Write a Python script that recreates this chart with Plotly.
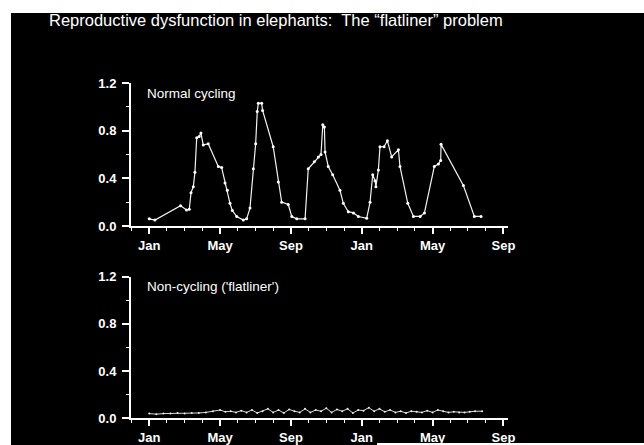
import plotly.graph_objects as go

W, H = 644, 445

# ---- data (x in months from first January) ----
cycling_months = [0.0, 0.32, 1.77, 2.1, 2.26, 2.36, 2.49, 2.58, 2.68, 2.82, 2.92, 3.05, 3.33, 3.9, 4.09,
                  4.28, 4.41, 4.56, 4.69, 4.94, 5.31, 5.5, 5.69, 5.88, 6.01, 6.1, 6.16, 6.35, 6.4, 7.0,
                  7.29, 7.48, 7.85, 8.05, 8.33, 8.8, 8.98, 9.32, 9.55, 9.7, 9.8, 9.89, 9.93, 10.11, 10.36,
                  10.77, 10.96, 11.24, 11.53, 11.81, 12.28, 12.47, 12.62, 12.75, 12.8, 12.94, 13.03, 13.26,
                  13.45, 13.69, 14.07, 14.16, 14.6, 14.92, 15.3, 15.54, 16.1, 16.33, 16.46, 16.48, 17.74,
                  18.36, 18.74]
cycling_values = [0.06, 0.05, 0.17, 0.135, 0.14, 0.28, 0.33, 0.45, 0.74, 0.75, 0.78, 0.68, 0.69, 0.50, 0.49,
                  0.36, 0.30, 0.19, 0.13, 0.08, 0.05, 0.06, 0.15, 0.48, 0.69, 0.96, 1.03, 1.03, 0.97, 0.665,
                  0.37, 0.20, 0.18, 0.08, 0.06, 0.06, 0.48, 0.54, 0.58, 0.60, 0.85, 0.83, 0.62, 0.50, 0.43,
                  0.30, 0.19, 0.12, 0.11, 0.08, 0.065, 0.20, 0.43, 0.38, 0.33, 0.47, 0.665, 0.665,
                  0.715, 0.58, 0.64, 0.50, 0.19, 0.08, 0.08, 0.11, 0.50, 0.52, 0.55, 0.685, 0.34,
                  0.08, 0.08]

flat_months = [0.0, 0.4, 0.8, 1.2, 1.6, 2.0, 2.4, 2.8, 3.2, 3.6, 4.0, 4.3, 4.6, 4.9, 5.2, 5.5, 5.8, 6.1,
               6.4, 6.7, 7.0, 7.3, 7.6, 7.9, 8.2, 8.5, 8.8, 9.1, 9.4, 9.7, 10.0, 10.3, 10.6, 10.9, 11.2,
               11.5, 11.8, 12.1, 12.4, 12.7, 13.0, 13.3, 13.6, 13.9, 14.2, 14.5, 14.8, 15.1, 15.4, 15.7,
               16.0, 16.3, 16.6, 16.9, 17.2, 17.5, 17.8, 18.1, 18.4, 18.8]
flat_values = [0.04, 0.035, 0.04, 0.04, 0.045, 0.04, 0.045, 0.045, 0.05, 0.06,
               0.07, 0.055, 0.06, 0.05, 0.065, 0.05, 0.07, 0.045, 0.06, 0.08,
               0.05, 0.07, 0.045, 0.075, 0.06, 0.05, 0.08, 0.05, 0.07, 0.06,
               0.085, 0.05, 0.075, 0.06, 0.08, 0.045, 0.07, 0.065, 0.09, 0.06,
               0.08, 0.055, 0.07, 0.05, 0.06, 0.045, 0.06, 0.055, 0.05, 0.065,
               0.05, 0.07, 0.06, 0.05, 0.055, 0.05, 0.05, 0.055, 0.06, 0.06]

tick_months = [0, 4, 8, 12, 16, 20]
tick_labels = ["Jan", "May", "Sep", "Jan", "May", "Sep"]
y_ticks = [0.0, 0.4, 0.8, 1.2]

title_text = "Reproductive dysfunction in elephants:  The \u201cflatliner\u201d problem"
panel_labels = ["Normal cycling", "Non-cycling ('flatliner')"]


def px_x(p):
    return p / W


def px_y(p):
    return 1 - p / H


fig = go.Figure()
fig.add_trace(go.Scatter(x=cycling_months, y=cycling_values, mode="lines+markers",
                         line=dict(color="#f2f2f2", width=1.2),
                         marker=dict(color="#ffffff", size=3),
                         xaxis="x", yaxis="y", showlegend=False))
fig.add_trace(go.Scatter(x=flat_months, y=flat_values, mode="lines+markers",
                         line=dict(color="#d8d8d8", width=1),
                         marker=dict(color="#eeeeee", size=2),
                         xaxis="x2", yaxis="y2", showlegend=False))

xdom = [px_x(131), px_x(508)]
xr = [-1.03, 20.26]
lab_font = dict(family="Liberation Sans, Arial", size=13, color="white", weight="bold")

xcommon = dict(range=xr, domain=xdom, showline=True, linecolor="white", linewidth=2,
               showgrid=False, zeroline=False, automargin=False, tickmode="array",
               tickvals=tick_months, ticktext=tick_labels, ticks="outside", ticklen=6,
               tickwidth=1.5, tickcolor="white", tickfont=lab_font,
               minor=dict(dtick=1, tick0=0, ticks="outside", ticklen=3, tickcolor="white", tickwidth=1),
               fixedrange=True)
ycommon = dict(range=[0, 1.2], showline=True, linecolor="white", linewidth=2, showgrid=False,
               zeroline=False, automargin=False, tickmode="array", tickvals=y_ticks, tickformat=".1f",
               ticks="outside", ticklen=7, tickwidth=1.5, tickcolor="white", tickfont=lab_font,
               ticklabelstandoff=3,
               minor=dict(dtick=0.2, tick0=0, ticks="outside", ticklen=3, tickcolor="white", tickwidth=1),
               fixedrange=True)

fig.update_layout(
    template="none",
    width=W, height=H, autosize=False,
    margin=dict(l=0, r=0, t=0, b=0, pad=0),
    paper_bgcolor="white", plot_bgcolor="black",
    xaxis=dict(anchor="y", **xcommon),
    yaxis=dict(anchor="x", domain=[px_y(226), px_y(83)], **ycommon),
    xaxis2=dict(anchor="y2", **xcommon),
    yaxis2=dict(anchor="x2", domain=[px_y(418.3), px_y(276.7)], **ycommon),
    shapes=[
        dict(type="rect", xref="paper", yref="paper", x0=px_x(11), x1=1, y0=0, y1=px_y(13),
             fillcolor="black", line=dict(width=0), layer="below"),
        dict(type="rect", xref="paper", yref="paper", x0=px_x(377), x1=1, y0=0, y1=px_y(443),
             fillcolor="white", line=dict(width=0), layer="above"),
    ],
    annotations=[
        dict(text=title_text, xref="paper", yref="paper", x=px_x(275.5), y=px_y(20),
             xanchor="center", yanchor="middle", showarrow=False,
             font=dict(family="Liberation Sans, Arial", size=16.5, color="white")),
        dict(text=panel_labels[0], xref="paper", yref="paper", x=px_x(145), y=px_y(93),
             xanchor="left", yanchor="middle", showarrow=False,
             font=dict(family="Liberation Sans, Arial", size=13.5, color="white")),
        dict(text=panel_labels[1], xref="paper", yref="paper", x=px_x(145), y=px_y(286),
             xanchor="left", yanchor="middle", showarrow=False,
             font=dict(family="Liberation Sans, Arial", size=13.5, color="white")),
    ],
)

post = ("document.documentElement.style.overflow='hidden';"
        "document.body.style.margin='0';"
        "var d=document.getElementById('{plot_id}');"
        "d.style.position='fixed';d.style.top='0px';d.style.left='0px';")

fig.write_html("out.html", config={"displayModeBar": False}, post_script=post)
